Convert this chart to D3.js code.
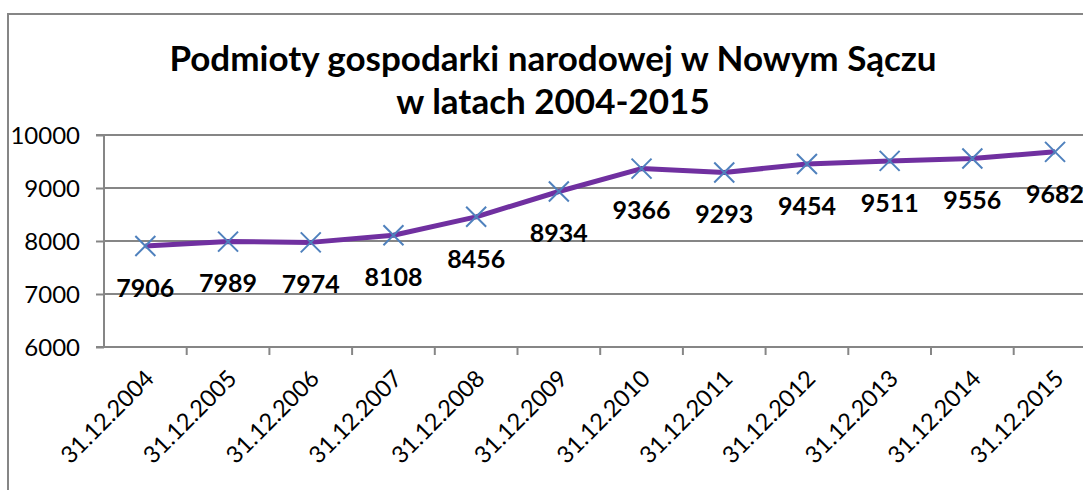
<!DOCTYPE html>
<html><head><meta charset="utf-8">
<script src="https://cdn.jsdelivr.net/npm/d3@7/dist/d3.min.js"></script>
<style>body{margin:0;background:#fff;} svg{display:block;}</style>
</head><body>
<svg id="c" width="1083" height="490"></svg>
<script>
const categories = ["31.12.2004","31.12.2005","31.12.2006","31.12.2007","31.12.2008","31.12.2009","31.12.2010","31.12.2011","31.12.2012","31.12.2013","31.12.2014","31.12.2015"];
const values = [7906,7989,7974,8108,8456,8934,9366,9293,9454,9511,9556,9682];
const yTicks = [6000,7000,8000,9000,10000];
const titleLines = ["Podmioty gospodarki narodowej w Nowym Sączu","w latach 2004-2015"];

(function(){
const svg = d3.select("#c");
const font = "Lato, 'Open Sans', sans-serif";
const gray = "#868686";

svg.append("rect").attr("x",8).attr("y",14).attr("width",1200).attr("height",600)
  .attr("fill","none").attr("stroke",gray).attr("stroke-width",2);

const pLeft = 104, pTop = 135, pBottom = 347;
const band = 82.7;
const x = d3.scaleBand().domain(categories).range([pLeft, pLeft + band*categories.length]).paddingInner(0).paddingOuter(0);
const y = d3.scaleLinear().domain([6000,10000]).range([pBottom, pTop]);

svg.append("g").selectAll("line").data(yTicks.filter(d=>d>6000)).join("line")
  .attr("x1",pLeft).attr("x2",1090).attr("y1",d=>y(d)).attr("y2",d=>y(d))
  .attr("stroke",gray).attr("stroke-width",2);

const ya = svg.append("g").attr("transform",`translate(${pLeft},0)`)
  .call(d3.axisLeft(y).tickValues(yTicks).tickSize(8).tickPadding(16).tickFormat(d3.format("d")));
ya.select(".domain").attr("stroke",gray).attr("stroke-width",2).attr("d",`M-8,${pTop}H0V${pBottom}H-8`);
ya.selectAll(".tick line").attr("stroke",gray).attr("stroke-width",2);
ya.selectAll(".tick text").attr("font-family",font).attr("font-size",24).attr("fill","#000").attr("dy","0.35em");

const xa = svg.append("g").attr("transform",`translate(0,${pBottom})`)
  .call(d3.axisBottom(x).tickSize(0).tickSizeOuter(0));
xa.select(".domain").attr("stroke",gray).attr("stroke-width",2).attr("d",`M${pLeft},0H1090`);
xa.selectAll(".tick line").remove();
svg.append("g").selectAll("line").data(categories).join("line")
  .attr("x1",d=>x(d)+band).attr("x2",d=>x(d)+band).attr("y1",pBottom).attr("y2",pBottom+8)
  .attr("stroke",gray).attr("stroke-width",2);
xa.selectAll(".tick text").attr("font-family",font).attr("font-size",23.5).attr("fill","#000")
  .attr("text-anchor","end").attr("dy",0).attr("y",0)
  .attr("transform","translate(10,33) rotate(-45)");

svg.append("g").selectAll("text").data(titleLines).join("text")
  .attr("x",553).attr("y",(d,i)=>71+i*43).attr("text-anchor","middle")
  .attr("font-family",font).attr("font-weight","bold").attr("font-size",35).attr("fill","#000")
  .text(d=>d);

const cx = d => x(d) + band/2;
const pts = categories.map((c,i)=>({c, v: values[i]}));

svg.append("path").datum(pts)
  .attr("d", d3.line().x(d=>cx(d.c)).y(d=>y(d.v)))
  .attr("fill","none").attr("stroke","#7030A0").attr("stroke-width",5).attr("stroke-linejoin","round");

const m = 10;
svg.append("g").selectAll("path").data(pts).join("path")
  .attr("d", d=>{const X=cx(d.c),Y=y(d.v);return `M${X-m},${Y-m}L${X+m},${Y+m}M${X-m},${Y+m}L${X+m},${Y-m}`;})
  .attr("stroke","#4F81BD").attr("stroke-width",2).attr("fill","none");

svg.append("g").selectAll("text").data(pts).join("text")
  .attr("x",d=>cx(d.c)).attr("y",d=>y(d.v)+42).attr("dy","0.35em")
  .attr("text-anchor","middle").attr("font-family",font).attr("font-weight","bold")
  .attr("font-size",25).attr("fill","#000").text(d=>d.v);
})();
</script>
</body></html>
